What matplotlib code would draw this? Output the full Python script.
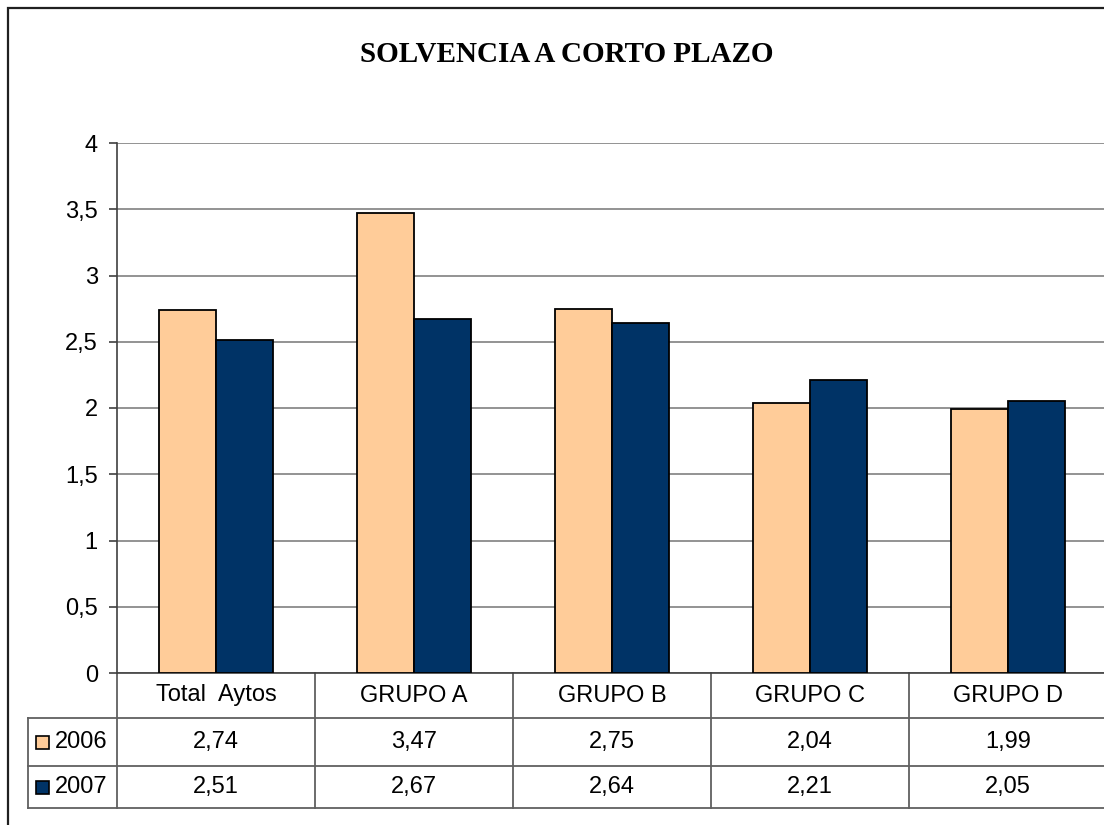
import numpy as np
import matplotlib.pyplot as plt
import matplotlib.transforms as mtransforms
from matplotlib.patches import Rectangle
from matplotlib.ticker import MultipleLocator, FuncFormatter

plt.rcParams['font.family'] = ['Liberation Sans', 'DejaVu Sans']

# datos
categorias = ['Total  Aytos', 'GRUPO A', 'GRUPO B', 'GRUPO C', 'GRUPO D']
anios = ['2006', '2007']
v2006 = [2.74, 3.47, 2.75, 2.04, 1.99]
v2007 = [2.51, 2.67, 2.64, 2.21, 2.05]
colores = ['#FFCC99', '#003366']

W, H = 1104, 825
fig = plt.figure(figsize=(W / 100, H / 100), dpi=100)

# area del grafico (el borde derecho queda fuera de la imagen)
ax = fig.add_axes([117 / W, 1 - 673 / H, 990 / W, 530 / H])
x = np.arange(len(categorias))
bw = 0.288
for k, (serie, col) in enumerate(zip([v2006, v2007], colores)):
    ax.bar(x + (k - 0.5) * bw, serie, bw, color=col, edgecolor='black',
           linewidth=1.3, zorder=3)

ax.set_xlim(-0.5, len(categorias) - 0.5)
ax.set_ylim(0, 4)
ax.yaxis.set_major_locator(MultipleLocator(0.5))
ax.yaxis.set_major_formatter(FuncFormatter(lambda v, p: f'{v:g}'.replace('.', ',')))
ax.grid(axis='y', color='#808080', linewidth=1.2, zorder=0)
ax.set_xticks([])
for s in ['top', 'right']:
    ax.spines[s].set_visible(False)
for s in ['left', 'bottom']:
    ax.spines[s].set_color('#404040')
    ax.spines[s].set_linewidth(1.2)
ax.tick_params(axis='y', length=5.8, width=1.2, color='#404040',
               labelsize=17, pad=8)

# tabla de datos bajo el eje
tr = mtransforms.blended_transform_factory(ax.transData, ax.transAxes)
yh, y1, y2 = -45 / 530, -93 / 530, -135 / 530
xl = -0.5 - 89 / 198
xr = len(categorias) - 0.5
lc = dict(color='#606060', linewidth=1.3, transform=tr, clip_on=False)
for yy in [yh, y1, y2]:
    ax.plot([xl, xr], [yy, yy], **lc)
for xx in np.arange(len(categorias) + 1) - 0.5:
    ax.plot([xx, xx], [0, y2], **lc)
ax.plot([xl, xl], [yh, y2], **lc)

for i, cat in enumerate(categorias):
    ax.text(i, yh / 2, cat, ha='center', va='center', fontsize=17,
            transform=tr)

filas = [(yh, y1), (y1, y2)]
for (ya, yb), anio, serie, col in zip(filas, anios, [v2006, v2007], colores):
    ym = (ya + yb) / 2
    for i, v in enumerate(serie):
        ax.text(i, ym, f'{v:.2f}'.replace('.', ','), ha='center', va='center',
                fontsize=17, transform=tr)
    ax.add_patch(Rectangle((-0.5 - 81 / 198, ym - 6.5 / 530), 13 / 198, 13 / 530,
                           facecolor=col, edgecolor='black', linewidth=1.2,
                           transform=tr, clip_on=False))
    ax.text(-0.5 - 62 / 198, ym, anio, ha='left', va='center', fontsize=17,
            transform=tr)

# titulo
fig.text(567 / W, 1 - 55 / H, 'SOLVENCIA A CORTO PLAZO', ha='center',
         va='center', family='Liberation Serif', weight='bold', fontsize=21)

# marco exterior
fig.patches.append(Rectangle((8 / W, -0.1), 1.2, 1.1 - 8 / H, fill=False,
                             edgecolor='#202020', linewidth=1.6,
                             transform=fig.transFigure))

fig.savefig('out.png', dpi=100)
